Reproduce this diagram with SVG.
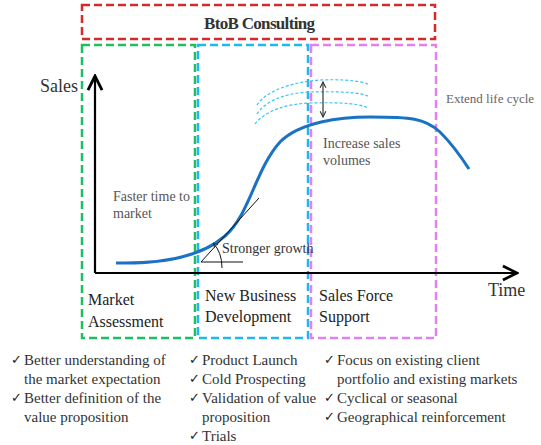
<svg xmlns="http://www.w3.org/2000/svg" width="541" height="445" viewBox="0 0 541 445">
<style>
.box{fill:none;stroke-width:2.5;stroke-dasharray:8 4}
text{font-family:"Liberation Serif","Times New Roman",serif;fill:#333}
.lbl{font-size:16px;fill:#222}
.note{font-size:14px;fill:#555}
.li{font-size:15px}
text.ck{font-family:"DejaVu Sans",sans-serif;font-size:13px;fill:#222}
.wave{fill:none;stroke:#3cc3f0;stroke-width:1.2;stroke-dasharray:3 2}
</style>
<defs>
<marker id="ah" viewBox="0 0 10 10" refX="9" refY="5" markerWidth="8" markerHeight="8" orient="auto-start-reverse"><path d="M1,1 L9,5 L1,9" fill="none" stroke="#000" stroke-width="1.6"/></marker>
<marker id="sa" viewBox="0 0 10 10" refX="9" refY="5" markerWidth="6" markerHeight="6" orient="auto-start-reverse"><path d="M1,1 L9,5 L1,9" fill="none" stroke="#333" stroke-width="1.5"/></marker>
</defs>
<g id="btob"><rect class="box" x="82" y="5" width="353" height="34" stroke="#d42a2a"/><text x="204" y="29" font-size="17" font-weight="bold" fill="#222" textLength="111" lengthAdjust="spacing">BtoB Consulting</text></g>
<g id="market"><rect class="box" x="82" y="45" width="113" height="293" stroke="#1fbf5f"/><text class="lbl" x="88" y="305">Market</text><text class="lbl" x="88" y="327">Assessment</text></g>
<g id="newbiz"><rect class="box" x="198" y="45" width="110" height="293" stroke="#1fb8ee"/><text class="lbl" x="205" y="301">New Business</text><text class="lbl" x="205" y="322">Development</text></g>
<g id="salesforce"><rect class="box" x="311" y="45" width="125" height="293" stroke="#e27ff2"/><text class="lbl" x="319" y="301">Sales Force</text><text class="lbl" x="319" y="322">Support</text></g>
<g id="connectors">
<line x1="95" y1="273" x2="95" y2="76" stroke="#000" stroke-width="2.2" marker-end="url(#ah)"/>
<line x1="95" y1="273" x2="517" y2="273" stroke="#000" stroke-width="2.2" marker-end="url(#ah)"/>
<path d="M257,105 C265,92 290,82 320,80 C345,79 360,81 368,84" class="wave"/>
<path d="M257,114 C265,101 285,93 310,92 C345,91 360,93 368,96" class="wave"/>
<path d="M255,124 C265,111 285,104 310,103 C345,102 360,104 368,108" class="wave"/>
<line x1="323" y1="82" x2="323" y2="117" stroke="#333" stroke-width="1.2" marker-start="url(#sa)" marker-end="url(#sa)"/>
<path d="M116,263 C160,264 200,258 225,236 C250,214 255,170 280,142 C300,122 340,117 370,117 C410,117 425,118 440,132 C450,142 460,155 469,169" fill="none" stroke="#1a72c4" stroke-width="3"/>
<line x1="201" y1="262" x2="259" y2="198" stroke="#111" stroke-width="1"/>
<line x1="201" y1="262" x2="243" y2="262" stroke="#111" stroke-width="1"/>
<path d="M222,268 Q222,252 213,243" fill="none" stroke="#111" stroke-width="1" marker-end="url(#sa)"/>
</g>
<text x="40" y="92" font-size="18" fill="#222">Sales</text>
<text x="488" y="296" font-size="18" fill="#222">Time</text>
<text class="note" x="113" y="201">Faster time to</text>
<text class="note" x="113" y="218">market</text>
<text class="note" x="222" y="253" style="fill:#333">Stronger growth</text>
<text class="note" x="323" y="148">Increase sales</text>
<text class="note" x="323" y="165">volumes</text>
<text class="note" x="446" y="103" style="fill:#666;font-size:13px">Extend life cycle</text>
<g id="list1">
<text class="ck" x="11" y="364">✓</text><text class="li" x="24" y="365">Better understanding of</text>
<text class="li" x="24" y="384">the market expectation</text>
<text class="ck" x="11" y="402">✓</text><text class="li" x="24" y="403">Better definition of the</text>
<text class="li" x="24" y="422">value proposition</text>
</g>
<g id="list2">
<text class="ck" x="189" y="364">✓</text><text class="li" x="202" y="365">Product Launch</text>
<text class="ck" x="189" y="383">✓</text><text class="li" x="202" y="384">Cold Prospecting</text>
<text class="ck" x="189" y="402">✓</text><text class="li" x="202" y="403">Validation of value</text>
<text class="li" x="202" y="422">proposition</text>
<text class="ck" x="189" y="440">✓</text><text class="li" x="202" y="441">Trials</text>
</g>
<g id="list3">
<text class="ck" x="324" y="364">✓</text><text class="li" x="337" y="365">Focus on existing client</text>
<text class="li" x="337" y="384">portfolio and existing markets</text>
<text class="ck" x="324" y="402">✓</text><text class="li" x="337" y="403">Cyclical or seasonal</text>
<text class="ck" x="324" y="421">✓</text><text class="li" x="337" y="422">Geographical reinforcement</text>
</g>
</svg>
